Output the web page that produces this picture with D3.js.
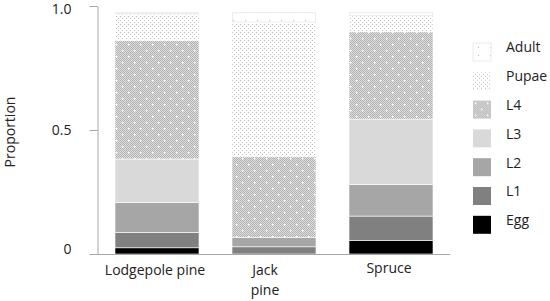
<!DOCTYPE html>
<html><head><meta charset="utf-8">
<script src="https://cdn.jsdelivr.net/npm/d3@7"></script>
<style>body{margin:0;background:#fff}svg{display:block}text{font-family:"Open Sans",sans-serif;fill:#222}</style>
</head><body><svg id="c" width="550" height="301"></svg>
<script>
const categories = ["Lodgepole pine", "Jack pine", "Spruce"];
const stages = ["Egg", "L1", "L2", "L3", "L4", "Pupae", "Adult"];
const egg   = [0.025, 0.000, 0.054];
const l1    = [0.062, 0.029, 0.099];
const l2    = [0.121, 0.038, 0.128];
const l3    = [0.175, 0.000, 0.263];
const l4    = [0.477, 0.325, 0.352];
const pupae = [0.108, 0.541, 0.064];
const adult = [0.007, 0.042, 0.015];
const yTicks = [0, 0.5, 1.0];
const yTickLabels = ["0", "0.5", "1.0"];
const legendOrder = ["Adult", "Pupae", "L4", "L3", "L2", "L1", "Egg"];

const seriesVals = {Egg: egg, L1: l1, L2: l2, L3: l3, L4: l4, Pupae: pupae, Adult: adult};
const rows = categories.map((c, i) => {
  const r = {cat: c};
  stages.forEach(s => r[s] = seriesVals[s][i]);
  return r;
});

const svg = d3.select("#c");
const defs = svg.append("defs");

// patterns
const pPup = defs.append("pattern").attr("id", "pupae").attr("patternUnits", "userSpaceOnUse")
  .attr("width", 4).attr("height", 4);
pPup.append("rect").attr("width", 4).attr("height", 4).attr("fill", "#fff");
pPup.append("rect").attr("x", 0).attr("y", 0).attr("width", 1).attr("height", 1).attr("fill", "#bdbdbd");
pPup.append("rect").attr("x", 2).attr("y", 2).attr("width", 1).attr("height", 1).attr("fill", "#bdbdbd");

const pL4 = defs.append("pattern").attr("id", "l4").attr("patternUnits", "userSpaceOnUse")
  .attr("width", 12).attr("height", 12);
pL4.append("rect").attr("width", 12).attr("height", 12).attr("fill", "#e0e0e0");
for (let yy = 0; yy < 12; yy++) for (let xx = 0; xx < 12; xx++) {
  if ((xx + yy) % 2 === 0) pL4.append("rect").attr("x", xx).attr("y", yy).attr("width", 1).attr("height", 1).attr("fill", "#b0b0b0");
}
pL4.append("rect").attr("x", 2).attr("y", 2).attr("width", 1.5).attr("height", 1.5).attr("fill", "#fff");
pL4.append("rect").attr("x", 8).attr("y", 8).attr("width", 1.5).attr("height", 1.5).attr("fill", "#fff");

const pAd = defs.append("pattern").attr("id", "adult").attr("patternUnits", "userSpaceOnUse")
  .attr("width", 12).attr("height", 8);
pAd.append("rect").attr("width", 12).attr("height", 8).attr("fill", "#fff");
pAd.append("rect").attr("x", 5).attr("y", 4).attr("width", 1).attr("height", 1).attr("fill", "#b8b8b8");

const fills = {Egg: "#000000", L1: "#808080", L2: "#a6a6a6", L3: "#d9d9d9",
  L4: "url(#l4)", Pupae: "url(#pupae)", Adult: "url(#adult)"};

const x = d3.scaleBand().domain(categories).range([98.5, 449.5]).paddingInner(0.282).paddingOuter(0.141);
const y = d3.scaleLinear().domain([0, 1]).range([254, 6]);

const stack = d3.stack().keys(stages)(rows);

svg.append("g").selectAll("g").data(stack).join("g")
  .attr("fill", d => fills[d.key])
  .selectAll("rect").data(d => d).join("rect")
  .attr("x", d => x(d.data.cat))
  .attr("width", x.bandwidth())
  .attr("y", d => y(d[1]))
  .attr("height", d => Math.max(0, y(d[0]) - y(d[1])))
  .attr("stroke", "#fff").attr("stroke-width", 0.6);

// adult outline
svg.append("g").selectAll("rect").data(stack[stack.length - 1]).join("rect")
  .attr("x", d => x(d.data.cat) + 0.5)
  .attr("width", x.bandwidth() - 1)
  .attr("y", d => y(d[1]) + 0.5)
  .attr("height", d => Math.max(0, y(d[0]) - y(d[1]) - 1))
  .attr("fill", "none").attr("stroke", "#ececec").attr("stroke-width", 1);

// y axis
const yAxis = d3.axisLeft(y).tickValues(yTicks).tickFormat((d, i) => yTickLabels[i]).tickSize(8).tickPadding(18).tickSizeOuter(0);
const gy = svg.append("g").attr("transform", "translate(97.5,0)").call(yAxis);
gy.select(".domain").attr("stroke", "#a6a6a6");
gy.selectAll(".tick line").attr("stroke", "#a6a6a6");
gy.selectAll(".tick text").style("font-size", "14px").attr("fill", "#222")
  .attr("dy", (d) => d === 0 ? "-0.05em" : (d === 1 ? "0.55em" : "0.32em"));

// x axis line
svg.append("line").attr("x1", 97.5).attr("x2", 450).attr("y1", 254.5).attr("y2", 254.5).attr("stroke", "#a6a6a6");

// x labels
const labelLines = {"Lodgepole pine": ["Lodgepole pine"], "Jack pine": ["Jack", "pine"], "Spruce": ["Spruce"]};
const labelDx = {"Lodgepole pine": -2, "Jack pine": -9, "Spruce": -2};
const labelY = {"Lodgepole pine": 275, "Jack pine": 275, "Spruce": 273};
categories.forEach(c => {
  const t = svg.append("text").attr("text-anchor", "middle").style("font-size", "14px")
    .attr("x", x(c) + x.bandwidth() / 2 + labelDx[c]).attr("y", labelY[c]);
  labelLines[c].forEach((ln, i) => t.append("tspan").attr("x", x(c) + x.bandwidth() / 2 + labelDx[c]).attr("dy", i ? 20 : 0).text(ln));
});

// y title
svg.append("text").attr("transform", "translate(15,132) rotate(-90)").attr("text-anchor", "middle")
  .style("font-size", "14px").text("Proportion");

// legend
const lg = svg.append("g").selectAll("g").data(legendOrder).join("g")
  .attr("transform", (d, i) => `translate(473,${43 + i * 28.8})`);
lg.append("rect").attr("width", 18).attr("height", 18).attr("fill", d => fills[d])
  .attr("stroke", d => d === "Adult" ? "#ececec" : "none");
lg.append("text").attr("x", 33).attr("y", 8).attr("dy", "0.1em").style("font-size", "14px").text(d => d);
</script></body></html>
